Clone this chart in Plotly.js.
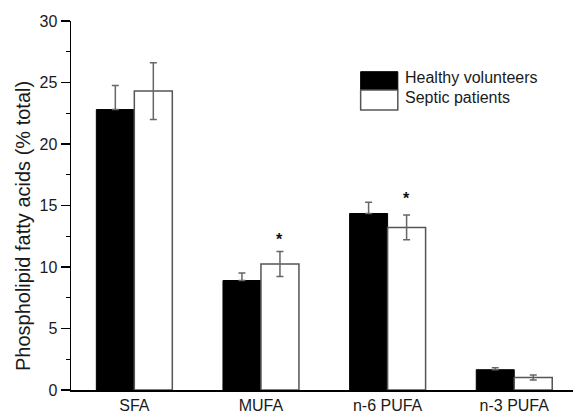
<!DOCTYPE html>
<html>
<head>
<meta charset="utf-8">
<script src="https://cdn.plot.ly/plotly-3.0.1.min.js"></script>
<style>html,body{margin:0;padding:0;background:#fff;}#chart{width:573px;height:414px;}</style>
</head>
<body>
<div id="chart"></div>
<script>
var categories = ["SFA", "MUFA", "n-6 PUFA", "n-3 PUFA"];
var healthy = [22.8, 8.9, 14.35, 1.65];
var healthyErr = [1.95, 0.62, 0.92, 0.15];
var septic = [24.3, 10.25, 13.22, 1.02];
var septicErr = [2.3, 1.02, 1.0, 0.2];
var seriesNames = ["Healthy volunteers", "Septic patients"];
var yTitle = "Phospholipid fatty acids (% total)";
var significant = [null, "*", "*", null];
var starY = [null, 12.2, 15.55, null];

var fontFam = "Liberation Sans, Arial, sans-serif";

var traces = [
  {
    type: "bar", name: seriesNames[0], x: categories, y: healthy,
    marker: {color: "#000000", line: {color: "#000000", width: 1}},
    error_y: {type: "data", array: healthyErr, symmetric: false, arrayminus: healthyErr.map(function(){return 0;}), color: "#666666", thickness: 1.5, width: 3.5},
    showlegend: false
  },
  {
    type: "bar", name: seriesNames[1], x: categories, y: septic,
    marker: {color: "#ffffff", line: {color: "#555555", width: 1.5}},
    error_y: {type: "data", array: septicErr, color: "#666666", thickness: 1.5, width: 3.5},
    showlegend: false
  }
];

var annotations = [];
categories.forEach(function(c, i){
  if (significant[i]) {
    annotations.push({x: c, y: starY[i], xref: "x", yref: "y", text: "<b>" + significant[i] + "</b>",
      showarrow: false, xshift: 19, font: {family: fontFam, size: 16, color: "#111"}});
  }
});
// y axis title (placed as annotation to match original offset)
annotations.push({xref: "paper", yref: "paper", x: -0.0966, y: 0.443, xanchor: "center", yanchor: "middle",
  textangle: -90, text: yTitle, showarrow: false, font: {family: fontFam, size: 20, color: "#1a1a1a"}});
// legend labels
annotations.push({xref: "paper", yref: "paper", x: 0.661, y: 0.848, xanchor: "left", yanchor: "middle",
  text: seriesNames[0], showarrow: false, font: {family: fontFam, size: 16, color: "#1a1a1a"}});
annotations.push({xref: "paper", yref: "paper", x: 0.661, y: 0.794, xanchor: "left", yanchor: "middle",
  text: seriesNames[1], showarrow: false, font: {family: fontFam, size: 16, color: "#1a1a1a"}});

var shapes = [
  {type: "rect", xref: "paper", yref: "paper", x0: 0.577, x1: 0.651, y0: 0.813, y1: 0.8626,
   fillcolor: "#000", line: {color: "#000", width: 1}},
  {type: "rect", xref: "paper", yref: "paper", x0: 0.577, x1: 0.651, y0: 0.759, y1: 0.813,
   fillcolor: "#fff", line: {color: "#555", width: 1.5}}
];

var layout = {
  width: 573, height: 414,
  margin: {l: 71, r: 0, t: 21, b: 24, pad: 0},
  paper_bgcolor: "#fff", plot_bgcolor: "#fff",
  barmode: "group", bargap: 0.4, bargroupgap: 0,
  font: {family: fontFam, color: "#1a1a1a"},
  xaxis: {
    type: "category", range: [-0.5, 3.464], showline: true, linecolor: "#000", linewidth: 1.5,
    ticks: "", showgrid: false, zeroline: false,
    tickfont: {family: fontFam, size: 16, color: "#1a1a1a"}
  },
  yaxis: {
    range: [0, 30], showline: true, linecolor: "#000", linewidth: 1.5,
    ticks: "outside", ticklen: 9, tickwidth: 1.2, tickcolor: "#000", dtick: 5,
    minor: {dtick: 2.5, ticks: "outside", ticklen: 4, tickwidth: 1.2, tickcolor: "#000"},
    showgrid: false, zeroline: false,
    tickfont: {family: fontFam, size: 16, color: "#1a1a1a"}
  },
  annotations: annotations,
  shapes: shapes
};

Plotly.newPlot("chart", traces, layout, {displayModeBar: false, staticPlot: true});
</script>
</body>
</html>
